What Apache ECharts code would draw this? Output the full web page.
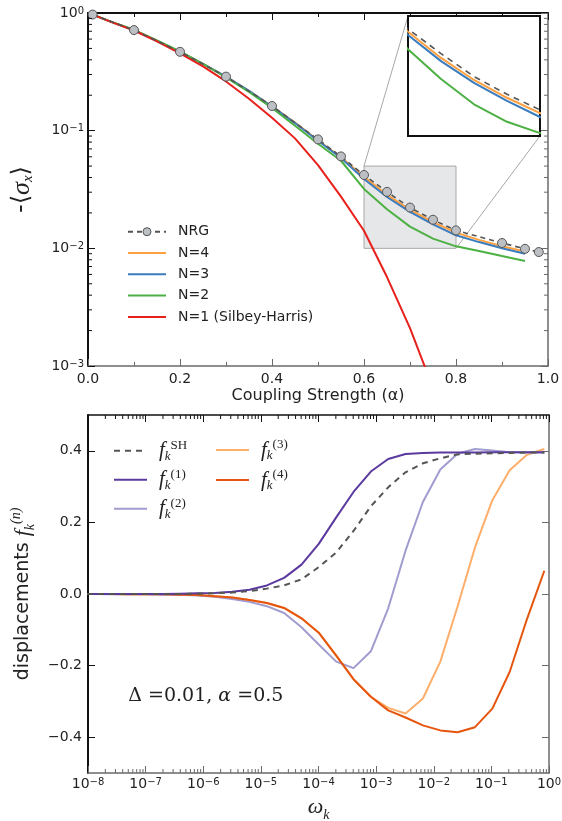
<!DOCTYPE html>
<html><head><meta charset="utf-8">
<script src="https://cdn.jsdelivr.net/npm/echarts@6/dist/echarts.min.js"></script>
<style>html,body{margin:0;padding:0;background:#fff}#c{width:562px;height:821px}</style>
</head><body><div id="c"></div>
<script>
// ---------- top panel data ----------
const alphaNRG = [0.01,0.1,0.2,0.3,0.4,0.5,0.55,0.6,0.65,0.7,0.75,0.8,0.9,0.95,0.98];
const sigmaNRG = [0.97,0.716,0.468,0.288,0.162,0.0843,0.0604,0.042,0.0302,0.0222,0.0175,0.0142,0.0111,0.0099,0.0093];
const alphaN = [0.01,0.05,0.1,0.15,0.2,0.25,0.3,0.35,0.4,0.45,0.5,0.55,0.6,0.65,0.7,0.75,0.8,0.85,0.9,0.95];
const sigmaN4 = [0.97,0.84,0.716,0.58,0.468,0.37,0.288,0.218,0.161,0.117,0.083,0.0595,0.0405,0.0285,0.0212,0.0167,0.0136,0.0118,0.0104,0.0094];
const sigmaN3 = [0.97,0.84,0.716,0.58,0.468,0.37,0.288,0.218,0.16,0.116,0.082,0.0585,0.0388,0.0273,0.0204,0.016,0.0129,0.0113,0.0100,0.0090];
const sigmaN2 = [0.97,0.845,0.72,0.585,0.472,0.37,0.283,0.213,0.156,0.11,0.0775,0.0555,0.032,0.0215,0.0153,0.0121,0.0104,0.0095,0.0086,0.0078];
const alphaN1 = [0.01,0.05,0.1,0.15,0.2,0.25,0.3,0.35,0.4,0.45,0.5,0.55,0.6,0.65,0.7,0.75];
const sigmaN1 = [0.97,0.84,0.71,0.575,0.453,0.352,0.262,0.187,0.129,0.086,0.051,0.0275,0.0141,0.0057,0.0021,0.00065];
const zoomBox = {x0:0.6, x1:0.8, y0:0.01, y1:0.05};

// ---------- bottom panel data ----------
const omega = [6.18e-9,1.237e-8,2.47e-8,4.95e-8,9.9e-8,1.98e-7,3.96e-7,7.92e-7,1.58e-6,3.17e-6,6.33e-6,1.27e-5,2.53e-5,5.07e-5,1.01e-4,2.03e-4,4.05e-4,8.1e-4,1.62e-3,3.24e-3,6.48e-3,1.30e-2,2.59e-2,5.19e-2,0.104,0.2075,0.415,0.83];
const fSH = [0,0,0,0,0,0,0,0.001,0.002,0.004,0.008,0.015,0.024,0.041,0.075,0.116,0.176,0.245,0.298,0.340,0.365,0.379,0.390,0.392,0.393,0.394,0.395,0.395];
const f1  = [0,0,0,0,0,0,0.001,0.002,0.003,0.006,0.012,0.024,0.045,0.082,0.14,0.214,0.285,0.342,0.377,0.391,0.394,0.395,0.395,0.395,0.396,0.396,0.396,0.396];
const f2  = [0,0,-0.001,-0.001,-0.001,-0.002,-0.002,-0.004,-0.008,-0.014,-0.022,-0.034,-0.053,-0.093,-0.141,-0.189,-0.207,-0.16,-0.04,0.121,0.257,0.348,0.392,0.405,0.401,0.396,0.395,0.395];
const f3  = [0,0,0,-0.001,-0.001,-0.001,-0.002,-0.003,-0.006,-0.010,-0.017,-0.025,-0.039,-0.068,-0.108,-0.172,-0.238,-0.287,-0.318,-0.334,-0.292,-0.189,-0.035,0.130,0.262,0.346,0.389,0.405];
const f4  = [0,0,0,-0.001,-0.001,-0.001,-0.002,-0.003,-0.006,-0.010,-0.017,-0.025,-0.039,-0.068,-0.108,-0.172,-0.238,-0.287,-0.325,-0.345,-0.367,-0.381,-0.386,-0.372,-0.320,-0.218,-0.070,0.065];
const botYTicks = [-0.4,-0.2,0,0.2,0.4];
const annoPos = [5e-8, -0.285];

// ---------- helpers ----------
function minorLogTicks(lo, hi){ const out=[]; for(let e=lo;e<hi;e++){ for(let m=2;m<=9;m++){ out.push(m*Math.pow(10,e)); } } return out; }
const topYMinor = minorLogTicks(-3,0);
const botXMinor = minorLogTicks(-8,0);
const zip = (xs,ys)=>xs.map((x,i)=>[x,ys[i]]);
const FS = 'DejaVu Sans';
const SERIF = 'Liberation Serif';
const supRich = {
  b:{fontSize:14,fontFamily:FS,color:'#222',lineHeight:14,verticalAlign:'bottom'},
  s:{fontSize:10,fontFamily:FS,color:'#222',lineHeight:10,verticalAlign:'top',padding:[0,0,8,0]}
};
const supFmt = v => { const e=Math.round(Math.log10(v)); return '{b|10}{s|'+String(e).replace('-','\u2212')+'}'; };

const C = {nrg:'#555555', n4:'#ffa040', n3:'#3a7cbd', n2:'#4cb043', n1:'#e8201c',
           sh:'#555555', p1:'#5b3a9f', p2:'#a09cd0', o3:'#fdae6b', o4:'#e6550d'};
const dark='#111', grey='#6a6a6a';

const chart = echarts.init(document.getElementById('c'), null, {renderer:'canvas'});

function mainLine(name, data, color, extra){ return Object.assign({name, type:'line', data, xAxisIndex:0, yAxisIndex:0, symbol:'none', lineStyle:{color, width:2}, itemStyle:{color}, z:3, animation:false}, extra||{}); }
function insetLine(name, data, color, extra){ return Object.assign({name, type:'line', data, xAxisIndex:2, yAxisIndex:2, symbol:'none', lineStyle:{color, width:2}, itemStyle:{color}, z:3, animation:false}, extra||{}); }
function botLine(name, data, color, extra){ return Object.assign({name, type:'line', data:zip(omega,data), xAxisIndex:4, yAxisIndex:3, symbol:'none', lineStyle:{color, width:2}, itemStyle:{color}, z:3, animation:false}, extra||{}); }

const botLegendRich = {
  f:{fontFamily:SERIF,fontStyle:'italic',fontSize:21,lineHeight:24,color:'#222',verticalAlign:'middle'},
  k:{fontFamily:SERIF,fontStyle:'italic',fontSize:13,lineHeight:12,color:'#222',verticalAlign:'bottom'},
  u:{fontFamily:SERIF,fontSize:13,lineHeight:12,color:'#222',verticalAlign:'top'}
};
const botLegendLabel = {fSH:'SH', f1:'(1)', f2:'(2)', f3:'(3)', f4:'(4)'};
const botLegendFmt = n => '{f|f}{k|k}{u|'+botLegendLabel[n]+'}';
const noSym = {opacity:0};

const option = {
  animation:false,
  backgroundColor:'#fff',
  grid:[
    {left:88, top:13, width:460, height:353, containLabel:false, outerBoundsMode:'none'},
    {left:408, top:16, width:132, height:120, containLabel:false, outerBoundsMode:'none', show:true, backgroundColor:'#fff', borderColor:dark, borderWidth:2, z:4},
    {left:88, top:415, width:461, height:358, containLabel:false, outerBoundsMode:'none'}
  ],
  xAxis:[
    {gridIndex:0, type:'value', position:'bottom', min:0, max:1, interval:0.2,
     axisLine:{show:true, onZero:false, lineStyle:{color:grey, width:1.5}},
     axisTick:{show:true, inside:true, length:7, lineStyle:{color:grey}},
     minorTick:{show:true, splitNumber:2, length:4, lineStyle:{color:grey}},
     splitLine:{show:false},
     axisLabel:{margin:6, fontFamily:FS, fontSize:14, color:'#222', formatter:v=>v.toFixed(1)},
     name:'Coupling Strength (\u03b1)', nameLocation:'middle', nameGap:22,
     nameTextStyle:{fontFamily:FS, fontSize:16, color:'#222'}},
    {gridIndex:0, type:'value', position:'top', min:0, max:1, interval:0.2,
     axisLine:{show:true, onZero:false, lineStyle:{color:dark, width:2}},
     axisTick:{show:true, inside:true, length:7, lineStyle:{color:dark}},
     minorTick:{show:true, splitNumber:2, length:4, lineStyle:{color:dark}},
     splitLine:{show:false}, axisLabel:{show:false}},
    {gridIndex:1, type:'value', position:'bottom', min:zoomBox.x0, max:zoomBox.x1, interval:0.05,
     axisLine:{show:false}, axisTick:{show:true, inside:true, length:4, lineStyle:{color:dark}},
     splitLine:{show:false}, axisLabel:{show:false}},
    {gridIndex:1, type:'value', position:'top', min:zoomBox.x0, max:zoomBox.x1, interval:0.05,
     axisLine:{show:false}, axisTick:{show:true, inside:true, length:4, lineStyle:{color:dark}},
     splitLine:{show:false}, axisLabel:{show:false}},
    {gridIndex:2, type:'log', logBase:10, position:'bottom', min:1e-8, max:1, splitNumber:8,
     axisLine:{show:true, onZero:false, lineStyle:{color:grey, width:1.5}},
     axisTick:{show:true, inside:true, length:7, lineStyle:{color:grey}},
     splitLine:{show:false},
     axisLabel:{margin:4, formatter:supFmt, rich:supRich},
     name:'{w|\u03c9}{k|k}', nameLocation:'middle', nameGap:22,
     nameTextStyle:{rich:{w:{fontFamily:SERIF,fontStyle:'italic',fontSize:22,lineHeight:26,color:'#222',verticalAlign:'top'},
                          k:{fontFamily:SERIF,fontStyle:'italic',fontSize:14,lineHeight:14,color:'#222',verticalAlign:'bottom'}}}},
    {gridIndex:2, type:'log', logBase:10, position:'top', min:1e-8, max:1, splitNumber:8,
     axisLine:{show:true, onZero:false, lineStyle:{color:dark, width:1.5}},
     axisTick:{show:true, inside:true, length:7, lineStyle:{color:dark}},
     splitLine:{show:false}, axisLabel:{show:false}}
  ],
  yAxis:[
    {gridIndex:0, type:'log', logBase:10, position:'left', min:0.001, max:1, splitNumber:3,
     axisLine:{show:true, onZero:false, lineStyle:{color:dark, width:2}},
     axisTick:{show:true, inside:true, length:7, lineStyle:{color:dark}},
     splitLine:{show:false},
     axisLabel:{margin:4, formatter:supFmt, rich:supRich},
     name:'{t|-\u27e8}{s|\u03c3}{x|x}{t|\u27e9}', nameLocation:'middle', nameGap:52, nameRotate:90,
     nameTextStyle:{rich:{t:{fontFamily:FS,fontSize:24,lineHeight:28,color:'#222'},
                          s:{fontFamily:SERIF,fontStyle:'italic',fontSize:26,lineHeight:28,color:'#222'},
                          x:{fontFamily:SERIF,fontStyle:'italic',fontSize:15,lineHeight:15,color:'#222',verticalAlign:'bottom'}}}},
    {gridIndex:0, type:'log', logBase:10, position:'right', min:0.001, max:1, splitNumber:3,
     axisLine:{show:true, onZero:false, lineStyle:{color:grey, width:1.5}},
     axisTick:{show:true, inside:true, length:7, lineStyle:{color:grey}},
     splitLine:{show:false}, axisLabel:{show:false}},
    {gridIndex:1, type:'log', logBase:10, min:zoomBox.y0, max:zoomBox.y1,
     axisLine:{show:false}, axisTick:{show:false}, splitLine:{show:false}, axisLabel:{show:false}},
    {gridIndex:2, type:'value', position:'left', min:-0.5, max:0.5, interval:0.1,
     axisLine:{show:true, onZero:false, lineStyle:{color:dark, width:2}},
     axisTick:{show:true, inside:true, length:7, lineStyle:{color:dark}, customValues:botYTicks},
     splitLine:{show:false},
     axisLabel:{margin:6, fontFamily:FS, fontSize:14, color:'#222', customValues:botYTicks,
                formatter:v=>v.toFixed(1).replace('-','\u2212')},
     name:'{t|displacements }{f|f}{k|k}{u|(n)}', nameLocation:'middle', nameGap:50, nameRotate:90,
     nameTextStyle:{rich:{t:{fontFamily:FS,fontSize:19,lineHeight:28,color:'#222',verticalAlign:'middle'},
                          f:{fontFamily:SERIF,fontStyle:'italic',fontSize:22,lineHeight:28,color:'#222',verticalAlign:'middle'},
                          k:{fontFamily:SERIF,fontStyle:'italic',fontSize:14,lineHeight:14,color:'#222',verticalAlign:'bottom'},
                          u:{fontFamily:SERIF,fontStyle:'italic',fontSize:14,lineHeight:14,color:'#222',verticalAlign:'top'}}}},
    {gridIndex:2, type:'value', position:'right', min:-0.5, max:0.5, interval:0.1,
     axisLine:{show:true, onZero:false, lineStyle:{color:grey, width:1.5}},
     axisTick:{show:true, inside:true, length:7, lineStyle:{color:grey}, customValues:botYTicks},
     splitLine:{show:false}, axisLabel:{show:false}}
  ],
  legend:[
    {orient:'vertical', left:127, top:224.7, padding:0, itemWidth:38, itemHeight:10, itemGap:7.3,
     data:[{name:'NRG', itemStyle:{borderWidth:1}},
           {name:'N=4', itemStyle:noSym},{name:'N=3', itemStyle:noSym},{name:'N=2', itemStyle:noSym},
           {name:'N=1 (Silbey-Harris)', itemStyle:noSym}],
     textStyle:{fontFamily:FS, fontSize:14, lineHeight:14, color:'#222', padding:[0,0,0,7]}},
    {orient:'vertical', left:113, top:438.7, padding:0, itemWidth:33, itemHeight:10, itemGap:5,
     data:[{name:'fSH', itemStyle:noSym},{name:'f1', itemStyle:noSym},{name:'f2', itemStyle:noSym}], formatter:botLegendFmt,
     textStyle:{rich:botLegendRich, padding:[0,0,0,7]}},
    {orient:'vertical', left:215, top:438, padding:0, itemWidth:33, itemHeight:10, itemGap:6,
     data:[{name:'f3', itemStyle:noSym},{name:'f4', itemStyle:noSym}], formatter:botLegendFmt,
     textStyle:{rich:botLegendRich, padding:[0,0,0,7]}}
  ],
  series:[
    {name:'zoomRect', type:'line', xAxisIndex:0, yAxisIndex:0, data:[], z:1, silent:true,
     markArea:{silent:true, itemStyle:{color:'#e6e7e9', borderColor:'#a8a8a8', borderWidth:1},
       data:[[{coord:[zoomBox.x0, zoomBox.y0]},{coord:[zoomBox.x1, zoomBox.y1]}]]}},
    mainLine('N=4', zip(alphaN, sigmaN4), C.n4),
    mainLine('N=3', zip(alphaN, sigmaN3), C.n3),
    mainLine('N=2', zip(alphaN, sigmaN2), C.n2),
    mainLine('N=1 (Silbey-Harris)', zip(alphaN1, sigmaN1), C.n1),
    mainLine('NRG', zip(alphaNRG, sigmaNRG), C.nrg, {symbol:'circle', symbolSize:9, showSymbol:true, z:6,
      lineStyle:{color:C.nrg, width:1.6, type:[5,4]},
      itemStyle:{color:'#bcc0c4', borderColor:'#555', borderWidth:1}}),
    insetLine('in4', zip(alphaN, sigmaN4), C.n4, {z:6}),
    insetLine('in3', zip(alphaN, sigmaN3), C.n3, {z:7}),
    insetLine('in2', zip(alphaN, sigmaN2), C.n2, {z:7}),
    insetLine('inNRG', zip(alphaNRG, sigmaNRG), C.nrg, {z:8, lineStyle:{color:C.nrg, width:1.6, type:[6,5]}}),
    {type:'custom', name:'ymin', xAxisIndex:0, yAxisIndex:0, data:topYMinor.map(v=>[0,v]), silent:true, z:10,
     renderItem:(p,api)=>{ const v=api.value(1); const a=api.coord([0,v]), b=api.coord([1,v]);
       return {type:'group', children:[
         {type:'line', shape:{x1:a[0],y1:a[1],x2:a[0]+4,y2:a[1]}, style:{stroke:dark,lineWidth:1}},
         {type:'line', shape:{x1:b[0],y1:b[1],x2:b[0]-4,y2:b[1]}, style:{stroke:grey,lineWidth:1}}]}; }},
    botLine('f4', f4, C.o4, {z:5}),
    botLine('f3', f3, C.o3, {z:4}),
    botLine('f2', f2, C.p2, {z:4}),
    botLine('f1', f1, C.p1, {z:5}),
    botLine('fSH', fSH, C.sh, {z:6, lineStyle:{color:C.sh, width:2, type:[6,5]}}),
    {type:'custom', name:'xmin', xAxisIndex:4, yAxisIndex:3, data:botXMinor.map(v=>[v,0]), silent:true, z:10,
     renderItem:(p,api)=>{ const v=api.value(0); const a=api.coord([v,-0.5]), b=api.coord([v,0.5]);
       return {type:'group', children:[
         {type:'line', shape:{x1:a[0],y1:a[1],x2:a[0],y2:a[1]-4}, style:{stroke:grey,lineWidth:1}},
         {type:'line', shape:{x1:b[0],y1:b[1],x2:b[0],y2:b[1]+4}, style:{stroke:dark,lineWidth:1}}]}; }}
  ]
};
chart.setOption(option);

// connector lines between zoom rectangle and inset, positions from the axes
const p1 = chart.convertToPixel({xAxisIndex:0, yAxisIndex:0}, [zoomBox.x0, zoomBox.y1]);
const q1 = chart.convertToPixel({xAxisIndex:2, yAxisIndex:2}, [zoomBox.x0, zoomBox.y1]);
const p2 = chart.convertToPixel({xAxisIndex:0, yAxisIndex:0}, [zoomBox.x1, zoomBox.y0]);
const q2 = chart.convertToPixel({xAxisIndex:2, yAxisIndex:2}, [zoomBox.x1, zoomBox.y0]);
const anno = chart.convertToPixel({xAxisIndex:4, yAxisIndex:3}, annoPos);
chart.setOption({graphic:[
  {type:'line', shape:{x1:p1[0],y1:p1[1],x2:q1[0],y2:q1[1]}, style:{stroke:'#a8a8a8',lineWidth:1}, z:2, silent:true},
  {type:'line', shape:{x1:p2[0],y1:p2[1],x2:q2[0],y2:q2[1]}, style:{stroke:'#a8a8a8',lineWidth:1}, z:2, silent:true},
  {type:'text', x:anno[0], y:anno[1], silent:true, style:{
     text:'{n|\u0394 =0.01, }{i|\u03b1}{n| =0.5}', verticalAlign:'middle',
     rich:{n:{fontFamily:'DejaVu Serif',fontSize:19,fill:'#222'}, i:{fontFamily:'DejaVu Serif',fontStyle:'italic',fontSize:19,fill:'#222'}}}}
]});
</script></body></html>
